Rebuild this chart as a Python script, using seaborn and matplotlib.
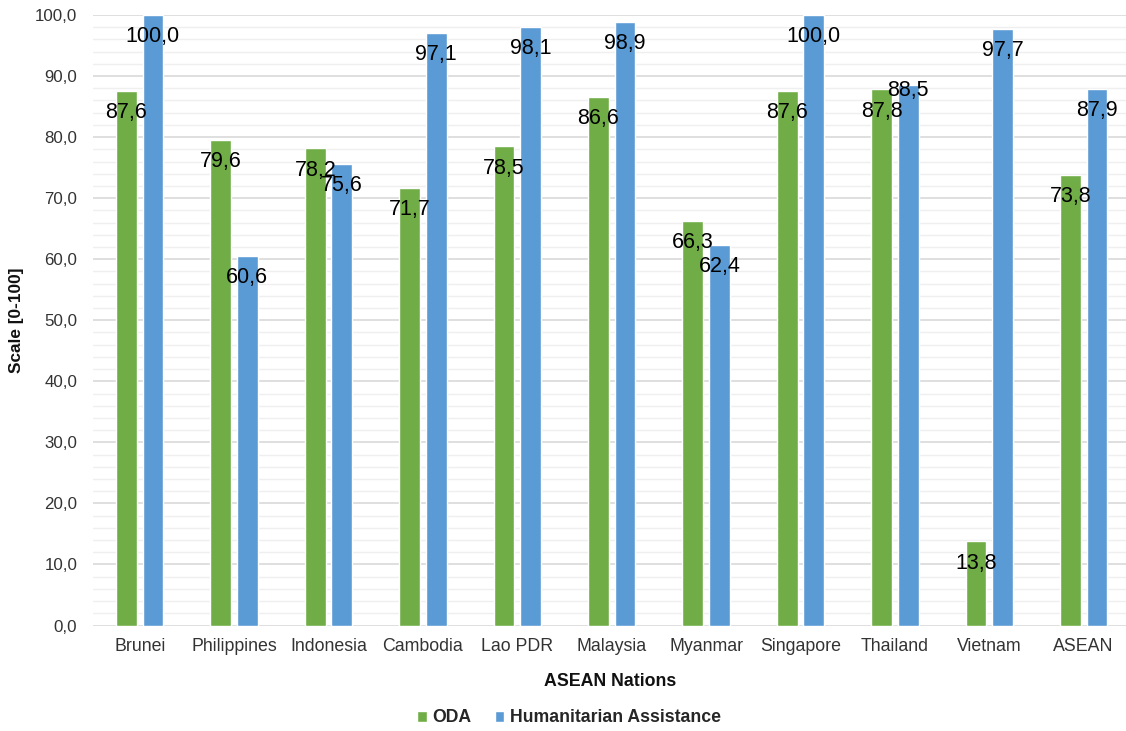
import matplotlib
matplotlib.use("Agg")
import matplotlib.pyplot as plt
from matplotlib.ticker import MultipleLocator, FuncFormatter
import seaborn as sns
import pandas as pd

categories = ["Brunei", "Philippines", "Indonesia", "Cambodia", "Lao PDR", "Malaysia",
              "Myanmar", "Singapore", "Thailand", "Vietnam", "ASEAN"]
oda = [87.6, 79.6, 78.2, 71.7, 78.5, 86.6, 66.3, 87.6, 87.8, 13.8, 73.8]
humanitarian = [100.0, 60.6, 75.6, 97.1, 98.1, 98.9, 62.4, 100.0, 88.5, 97.7, 87.9]
series_names = ["ODA", "Humanitarian Assistance"]
colors = ["#70AD47", "#5B9BD5"]

df = pd.DataFrame({
    "Nation": categories * 2,
    "Series": [series_names[0]] * len(categories) + [series_names[1]] * len(categories),
    "Value": oda + humanitarian,
})

sns.set_theme(style="white")
plt.rcParams["font.family"] = ["Liberation Sans", "DejaVu Sans"]

fig = plt.figure(figsize=(11.26, 7.31), dpi=100)
ax_left = 92.5 / 1126
ax_bottom = (731 - 625.5) / 731
ax_top = 1 - 15 / 731
ax = fig.add_axes([ax_left, ax_bottom, 1 - ax_left, ax_top - ax_bottom])

sns.barplot(data=df, x="Nation", y="Value", hue="Series", hue_order=series_names,
            order=categories, palette=colors, saturation=1, width=0.56, gap=0.214,
            ax=ax, legend=True)

ax.set_ylim(0, 100)
ax.set_xlim(-0.5, -0.5 + (1126 - 92.5) / 94.4)
ax.yaxis.set_major_locator(MultipleLocator(10))
ax.yaxis.set_minor_locator(MultipleLocator(2))
ax.yaxis.set_major_formatter(FuncFormatter(lambda v, p: f"{v:.1f}".replace(".", ",")))
ax.grid(axis="y", which="major", color="#d9d9d9", linewidth=1.2)
ax.grid(axis="y", which="minor", color="#efefef", linewidth=1.0)
ax.set_axisbelow(True)
for s in ax.spines.values():
    s.set_visible(False)
ax.tick_params(axis="both", which="both", length=0)
ax.tick_params(axis="y", labelsize=12.2, pad=11, labelcolor="#333333")
ax.tick_params(axis="x", labelsize=12.8, pad=9, labelcolor="#333333")

ax.set_ylabel("Scale [0-100]", fontsize=12.4, fontweight="bold", color="#111111")
ax.yaxis.set_label_coords(-0.066, 0.5)
ax.set_xlabel("ASEAN Nations", fontsize=12.8, fontweight="bold", color="#111111")
ax.xaxis.set_label_coords(0.5007, -0.078)

for ci, cont in enumerate(ax.containers):
    vals = [p.get_height() for p in cont]
    labels = [f"{v:.1f}".replace(".", ",") for v in vals]
    texts = ax.bar_label(cont, labels=labels, padding=-15.8, fontsize=15.5, color="#000000")
    for t in texts:
        t.set_va("center")
    # Thailand: the second label is lifted to avoid colliding with its neighbour
    if ci == 1:
        texts[categories.index("Thailand")].xyann = (0, -3.5)

handles, lbls = ax.get_legend_handles_labels()
ax.legend_.remove()
fig.legend(handles, lbls, loc="center", bbox_to_anchor=(569 / 1126, 1 - 718 / 731),
           ncol=2, frameon=False, prop={"weight": "bold", "size": 12.7},
           handlelength=0.55, handleheight=0.55, handletextpad=0.3, columnspacing=1.3)

fig.savefig("out.png", dpi=100)
